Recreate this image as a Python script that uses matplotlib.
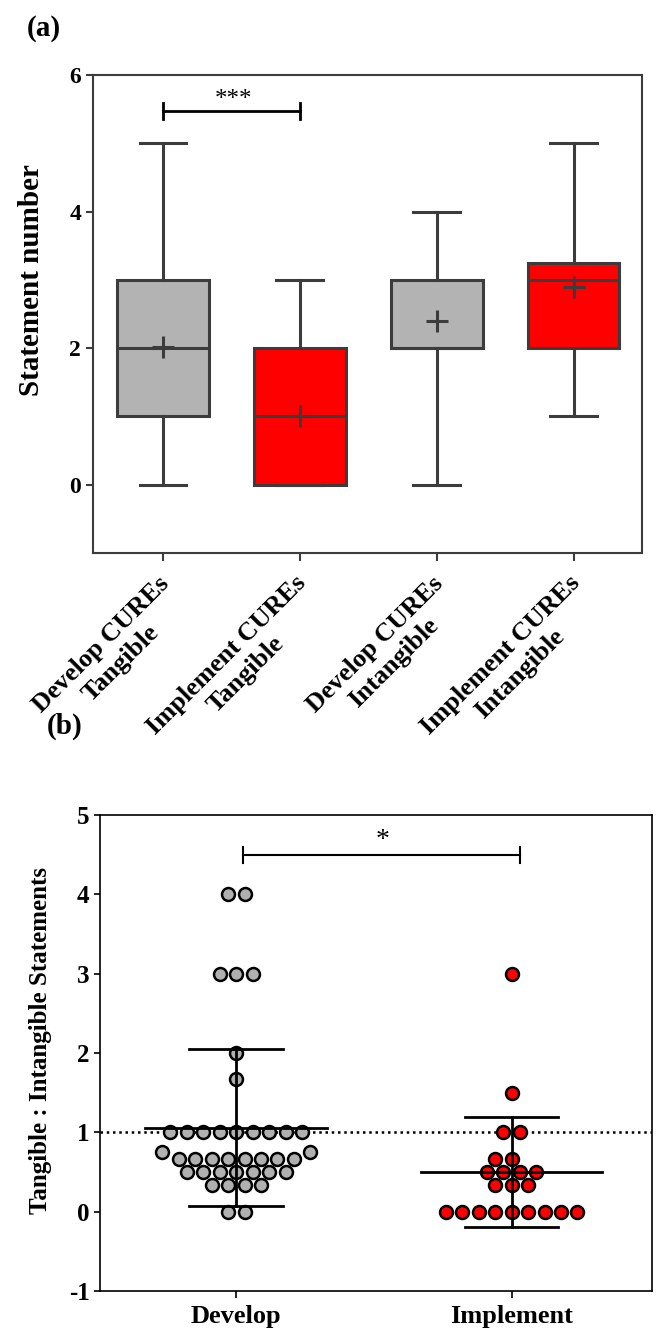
import numpy as np
import matplotlib
matplotlib.use("Agg")
import matplotlib.pyplot as plt
from matplotlib.transforms import ScaledTranslation

plt.rcParams['font.family'] = ['Liberation Serif', 'DejaVu Serif']
plt.rcParams['font.weight'] = 'bold'

# --- panel (a): box plot data ---
box_labels = ['Develop CUREs\nTangible', 'Implement CUREs\nTangible',
              'Develop CUREs\nIntangible', 'Implement CUREs\nIntangible']
box_min = [0, 0, 0, 1]
box_q1 = [1, 0, 2, 2]
box_med = [2, 1, 2, 3]
box_q3 = [3, 2, 3, 3.25]
box_max = [5, 3, 4, 5]
box_mean = [2.02, 1.0, 2.4, 2.9]
box_colors = ['#b3b3b3', '#ff0000', '#b3b3b3', '#ff0000']

# --- panel (b): ratio data ---
develop_vals = [4, 4, 3, 3, 3, 2, 1.667,
                1, 1, 1, 1, 1, 1, 1, 1, 1,
                0.75, 0.75,
                0.667, 0.667, 0.667, 0.667, 0.667, 0.667, 0.667, 0.667,
                0.5, 0.5, 0.5, 0.5, 0.5, 0.5, 0.5,
                0.333, 0.333, 0.333, 0.333,
                0, 0]
implement_vals = [3, 1.5, 1, 1, 0.667, 0.667,
                  0.5, 0.5, 0.5, 0.5,
                  0.333, 0.333, 0.333,
                  0, 0, 0, 0, 0, 0, 0, 0, 0]
group_labels = ['Develop', 'Implement']
group_mean = [1.06, 0.5]
group_sd = [0.99, 0.69]
point_colors = ['#b0b0b0', '#ff0000']


def swarm(vals, px_x, px_y, step, dcol):
    # row-wise scatter layout: each row of equal values is centred,
    # rows that would collide with earlier ones are placed point by point
    vals = np.asarray(vals, dtype=float)
    offs = np.zeros(len(vals))
    placed = []  # (x_px, y_px)

    def free(x, y):
        for px, py in placed:
            if py == y:
                if abs(px - x) < step - 1e-6:
                    return False
            elif (px - x) ** 2 + (py - y) ** 2 < dcol ** 2:
                return False
        return True

    for v in sorted(set(vals)):
        idx = np.where(vals == v)[0]
        n = len(idx)
        y = v * px_y
        centred = [(k - (n - 1) / 2) * step for k in range(n)]
        if all(free(x, y) for x in centred):
            xs = centred
        else:
            cands = sorted([j * step / 2 for j in range(-40, 41)], key=lambda c: (abs(c), c))
            xs = []
            for c in cands:
                if len(xs) == n:
                    break
                if free(c, y):
                    xs.append(c)
                    placed.append((c, y))
            for c in xs:
                placed.remove((c, y))
        for i, x in zip(idx, xs):
            offs[i] = x / px_x
            placed.append((x, y))
    return offs


fig = plt.figure(figsize=(6.6, 13.43), dpi=100)

# ---------------- panel (a) ----------------
ax1 = fig.add_axes([93 / 660, 1 - 553 / 1343, 549 / 660, 478 / 1343])
pos = np.arange(1, len(box_labels) + 1)
stats = []
for i in range(len(box_labels)):
    stats.append(dict(whislo=box_min[i], q1=box_q1[i], med=box_med[i],
                      q3=box_q3[i], whishi=box_max[i], fliers=[]))
edge = '#3c3c3c'
bp = ax1.bxp(stats, positions=pos, widths=0.67, patch_artist=True, showfliers=False,
             boxprops=dict(linewidth=2.2, edgecolor=edge),
             medianprops=dict(color=edge, linewidth=2.2),
             whiskerprops=dict(color=edge, linewidth=2.2),
             capprops=dict(color=edge, linewidth=2.2), capwidths=0.34)
for patch, c in zip(bp['boxes'], box_colors):
    patch.set_facecolor(c)
ax1.plot(pos, box_mean, linestyle='none', marker='+', ms=16, mew=2.2, color=edge)

ax1.plot([1, 2], [5.47, 5.47], color='black', lw=2)
ax1.plot([1, 1], [5.35, 5.59], color='black', lw=2)
ax1.plot([2, 2], [5.35, 5.59], color='black', lw=2)
ax1.text(1.52, 5.47, '***', ha='center', va='bottom', fontsize=18, fontweight='normal')

ax1.set_xlim(0.49, 4.5)
ax1.set_ylim(-1, 6)
ax1.set_yticks([0, 2, 4, 6])
ax1.set_xticks(pos)
ax1.tick_params(axis='y', labelsize=17, length=5, width=1.5, color=edge)
ax1.tick_params(axis='x', length=6, width=1.5, color=edge, pad=6)
ax1.set_xticklabels(box_labels, rotation=45, ha='right', va='top',
                    rotation_mode='anchor', multialignment='center', fontsize=19)
shift = ScaledTranslation(-0.05, -0.02, fig.dpi_scale_trans)
for lab in ax1.get_xticklabels():
    lab.set_transform(lab.get_transform() + shift)
for s in ax1.spines.values():
    s.set_color(edge)
    s.set_linewidth(1.5)
ax1.set_ylabel('Statement number', fontsize=21, fontweight='bold')
ax1.yaxis.set_label_coords(-0.087, 0.571)
fig.text(27 / 660, 1 - 28 / 1343, '(a)', fontsize=21, fontweight='bold', va='center')

# ---------------- panel (b) ----------------
ax2 = fig.add_axes([100 / 660, 1 - 1291 / 1343, 552 / 660, 476 / 1343])
px_x, px_y = 276.0, 79.3
for g, vals in enumerate([develop_vals, implement_vals]):
    vals = np.array(vals, dtype=float)
    offs = swarm(vals, px_x, px_y, step=16.5, dcol=15.0)
    ax2.scatter(g + offs, vals, s=9.3 ** 2, color=point_colors[g],
                edgecolors='black', linewidths=1.8, zorder=3)
    m, sd = group_mean[g], group_sd[g]
    ax2.plot([g - 0.33, g + 0.33], [m, m], color='black', lw=2.0, zorder=4)
    ax2.plot([g, g], [m - sd, m + sd], color='black', lw=2.0, zorder=4)
    ax2.plot([g - 0.17, g + 0.17], [m + sd, m + sd], color='black', lw=2.0, zorder=4)
    ax2.plot([g - 0.17, g + 0.17], [m - sd, m - sd], color='black', lw=2.0, zorder=4)

ax2.axhline(1, color='black', lw=1.8, linestyle=(0, (1, 1.5)), zorder=1)
ax2.plot([0.025, 1.03], [4.5, 4.5], color='black', lw=1.5)
ax2.plot([0.025, 0.025], [4.4, 4.6], color='black', lw=1.5)
ax2.plot([1.03, 1.03], [4.4, 4.6], color='black', lw=1.5)
ax2.text(0.53, 4.52, '*', ha='center', va='bottom', fontsize=20, fontweight='normal')

ax2.set_xlim(-0.495, 1.51)
ax2.set_ylim(-1, 5)
ax2.set_yticks(range(-1, 6))
ax2.set_yticklabels([str(t) for t in range(-1, 6)])
ax2.set_xticks([0, 1])
ax2.set_xticklabels(group_labels, fontsize=19)
ax2.tick_params(axis='y', labelsize=18, length=4, width=1.2)
ax2.tick_params(axis='x', length=5, width=1.2, pad=5)
for s in ax2.spines.values():
    s.set_linewidth(1.2)
ax2.set_ylabel('Tangible : Intangible Statements', fontsize=18, fontweight='bold')
ax2.yaxis.set_label_coords(-0.087, 0.527)
fig.text(47 / 660, 1 - 726 / 1343, '(b)', fontsize=21, fontweight='bold', va='center')

fig.savefig('out.png', dpi=100)
